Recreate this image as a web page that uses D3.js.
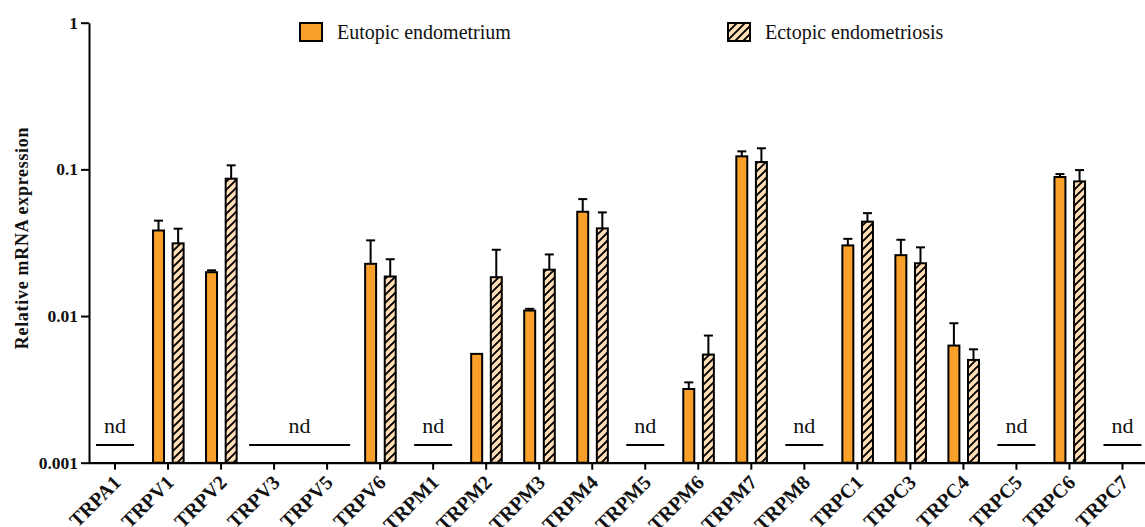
<!DOCTYPE html>
<html>
<head>
<meta charset="utf-8">
<script src="https://cdn.jsdelivr.net/npm/d3@7/dist/d3.min.js"></script>
<style>
  html, body { margin: 0; padding: 0; background: #ffffff; }
  svg { display: block; }
  text { font-family: "Liberation Serif", "Times New Roman", serif; fill: #111; }
</style>
</head>
<body>
<svg id="chart" width="1145" height="527"></svg>
<script>
// TRP channel genes on the x axis
const categories = ["TRPA1", "TRPV1", "TRPV2", "TRPV3", "TRPV5", "TRPV6", "TRPM1", "TRPM2",
  "TRPM3", "TRPM4", "TRPM5", "TRPM6", "TRPM7", "TRPM8", "TRPC1", "TRPC3", "TRPC4", "TRPC5",
  "TRPC6", "TRPC7"];

// Relative mRNA expression (mean) and SEM; null = not detected
const eutopicMean = [null, 0.0383, 0.0199, null, null, 0.0227, null, 0.00552, 0.0109, 0.0514,
  null, 0.00318, 0.1227, null, 0.0303, 0.0260, 0.00629, null, 0.0887, null];
const eutopicSEM = [null, 0.0064, 0.0006, null, null, 0.0101, null, 0, 0.0003, 0.0113,
  null, 0.00035, 0.0100, null, 0.0033, 0.0071, 0.00264, null, 0.0042, null];
const ectopicMean = [null, 0.0313, 0.0864, null, null, 0.0186, null, 0.0184, 0.0207, 0.0396,
  null, 0.00546, 0.1122, null, 0.0440, 0.0229, 0.00502, null, 0.0828, null];
const ectopicSEM = [null, 0.0081, 0.0201, null, null, 0.0058, null, 0.0099, 0.0056, 0.0113,
  null, 0.0019, 0.0270, null, 0.0063, 0.0065, 0.00091, null, 0.0161, null];

// Not-detected runs of genes, each marked with one "nd" bar
const ndGroups = [["TRPA1"], ["TRPV3", "TRPV5"], ["TRPM1"], ["TRPM5"], ["TRPM8"], ["TRPC5"], ["TRPC7"]];

const yTicks = [0.001, 0.01, 0.1, 1];
const seriesNames = ["Eutopic endometrium", "Ectopic endometriosis"];

const svg = d3.select("#chart");
const orange = "#F9A02A";
const peach = "#FFDDB6";

// Diagonal hatch for the ectopic series
const defs = svg.append("defs");
const pat = defs.append("pattern")
  .attr("id", "hatch").attr("patternUnits", "userSpaceOnUse")
  .attr("width", 8).attr("height", 8);
pat.append("rect").attr("width", 8).attr("height", 8).attr("fill", peach);
pat.append("path").attr("d", "M-2,10 L10,-2 M-2,2 L2,-2 M6,10 L10,6")
  .attr("stroke", "#000").attr("stroke-width", 1.9);

const x = d3.scaleBand().domain(categories).range([88.5, 1149]).padding(0);
const sub = d3.scaleBand().domain(["eu", "ec"]).range([11.5, 42.1]).paddingInner(0.44);
const y = d3.scaleLog().domain([0.001, 1]).range([462.7, 22.7]);

// Axes
const yAxis = svg.append("g").attr("transform", "translate(89,0)")
  .call(d3.axisLeft(y).tickValues(yTicks).tickFormat(d3.format("~g")).tickSize(8).tickSizeOuter(0).tickPadding(3));
yAxis.selectAll("path, line").attr("stroke", "#000").attr("stroke-width", 2);
yAxis.selectAll("text").attr("font-size", 17.5).attr("font-weight", "bold")
  .style("font-family", "'Liberation Serif', serif").attr("fill", "#111");

const xAxis = svg.append("g").attr("transform", "translate(0,462.7)")
  .call(d3.axisBottom(x).tickSize(7).tickSizeOuter(0));
xAxis.select(".domain").attr("stroke", "#000").attr("stroke-width", 2.2);
xAxis.selectAll("line").attr("stroke", "#000").attr("stroke-width", 2);
xAxis.selectAll("text")
  .attr("x", 0).attr("y", 0).attr("dy", 0)
  .attr("transform", "translate(7,21) rotate(-45)")
  .attr("text-anchor", "end")
  .attr("font-size", 20).attr("font-weight", "bold")
  .style("font-family", "'Liberation Serif', serif").attr("fill", "#111");

// Y axis title
svg.append("text")
  .attr("transform", "translate(28,238) rotate(-90)")
  .attr("text-anchor", "middle")
  .attr("font-size", 18).attr("font-weight", "bold")
  .attr("letter-spacing", 0.7)
  .text("Relative mRNA expression");

// Bars and error bars
const rows = categories.map((c, i) => ({
  cat: c,
  eu: eutopicMean[i], euErr: eutopicSEM[i],
  ec: ectopicMean[i], ecErr: ectopicSEM[i]
}));

const barData = [];
rows.forEach(r => {
  if (r.eu != null) barData.push({ cat: r.cat, key: "eu", v: r.eu, e: r.euErr });
  if (r.ec != null) barData.push({ cat: r.cat, key: "ec", v: r.ec, e: r.ecErr });
});

const bars = svg.append("g");
const errs = svg.append("g");

errs.selectAll("g").data(barData.filter(d => d.e > 0)).join("g")
  .each(function (d) {
    const cx = x(d.cat) + sub(d.key) + sub.bandwidth() / 2;
    const g = d3.select(this);
    g.append("line").attr("x1", cx).attr("x2", cx)
      .attr("y1", y(d.v)).attr("y2", y(d.v + d.e))
      .attr("stroke", "#000").attr("stroke-width", 2);
    g.append("line").attr("x1", cx - 4.5).attr("x2", cx + 4.5)
      .attr("y1", y(d.v + d.e)).attr("y2", y(d.v + d.e))
      .attr("stroke", "#000").attr("stroke-width", 2);
  });

bars.selectAll("rect").data(barData).join("rect")
  .attr("x", d => x(d.cat) + sub(d.key))
  .attr("width", sub.bandwidth())
  .attr("y", d => y(d.v))
  .attr("height", d => y(0.001) - y(d.v))
  .attr("fill", d => d.key === "eu" ? orange : "url(#hatch)")
  .attr("stroke", "#000").attr("stroke-width", 2);

// "nd" markers
const ndG = svg.append("g");
ndGroups.forEach(grp => {
  const first = grp[0], last = grp[grp.length - 1];
  const span = grp.length > 1;
  const x1 = x(first) + x.bandwidth() / 2 - (span ? 25 : 19);
  const x2 = x(last) + x.bandwidth() / 2 + (span ? 23 : 19);
  ndG.append("line").attr("x1", x1).attr("x2", x2)
    .attr("y1", 445).attr("y2", 445)
    .attr("stroke", "#000").attr("stroke-width", 2);
  ndG.append("text").attr("x", (x1 + x2) / 2).attr("y", 433)
    .attr("text-anchor", "middle").attr("font-size", 22)
    .text("nd");
});

// Legend
const legend = svg.append("g");
const legendX = [300, 728];
seriesNames.forEach((name, i) => {
  legend.append("rect").attr("x", legendX[i]).attr("y", 23)
    .attr("width", 22).attr("height", 18)
    .attr("fill", i === 0 ? orange : "url(#hatch)")
    .attr("stroke", "#000").attr("stroke-width", 2);
  legend.append("text").attr("x", legendX[i] + 37).attr("y", 38.5)
    .attr("font-size", 20).text(name);
});
</script>
</body>
</html>
